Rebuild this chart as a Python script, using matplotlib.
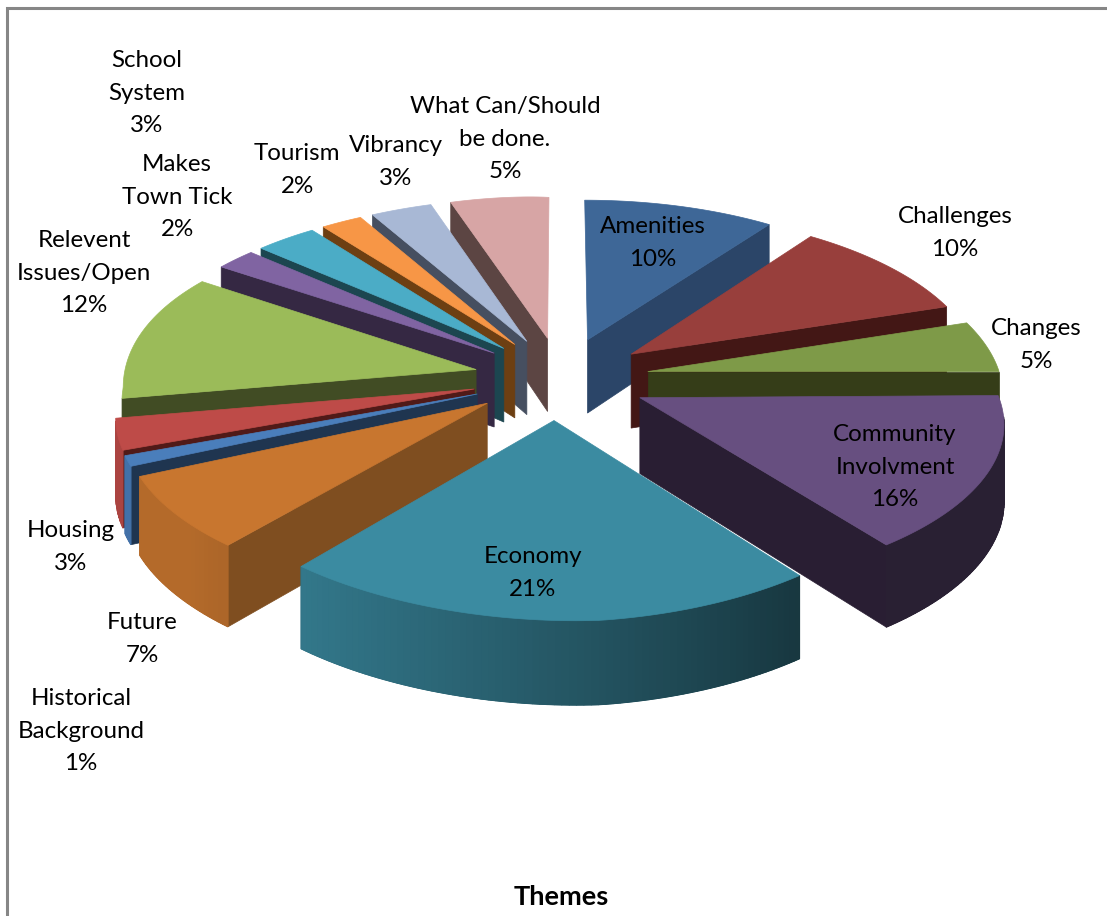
import numpy as np
import matplotlib
matplotlib.use('Agg')
import matplotlib.pyplot as plt
from matplotlib.colors import to_rgb

plt.rcParams['font.family'] = ['Lato', 'DejaVu Sans']

# clockwise from twelve o'clock
themes = ['Amenities', 'Challenges', 'Changes', 'Community\nInvolvment', 'Economy', 'Future',
          'Historical\nBackground', 'Housing', 'Relevent\nIssues/Open', 'Makes\nTown Tick',
          'School\nSystem', 'Tourism', 'Vibrancy', 'What Can/Should\nbe done.']
shares = [10, 10, 5, 16, 21, 7, 1, 3, 12, 2, 3, 2, 3, 5]
top_colors = ['#3E6797', '#983F3C', '#7E9A48', '#674F80', '#3B8BA1', '#C8762F', '#4A7EBB',
              '#BE4B48', '#9BBB59', '#8064A2', '#4BACC6', '#F79646', '#A8B8D5', '#D7A5A5']
side_colors = ['#2B4568', '#431715', '#353D18', '#291E33', '#16343F', '#7F4E20', '#1F3550',
               '#501A18', '#414C24', '#352843', '#1C4650', '#6D3F12', '#464F60', '#5C4543']
label_centers = [(653, 243), (955, 233), (1036, 345), (895, 467), (533, 573), (142, 639),
                 (81, 731), (71, 547), (84, 273), (177, 197), (147, 93), (297, 170),
                 (396, 162), (505, 139)]

# view of the pie, in pixels
CX, CY = 561, 378
RX, RY = 353, 165
PERSP_X, PERSP_Y = 0.122, 0.12
SHEAR_X, TILT_LEFT, TILT_RIGHT = 25, 8, 18
BACK_LEFT_X, BACK_LEFT_Y = 21, 8
EXPLODE = 0.25
DEPTH = 75


def project(u, v, z=0.0):
    u, v = np.asarray(u, float), np.asarray(v, float)
    front = np.clip(v, 0, None)
    back = np.clip(-v, 0, None)
    left = np.clip(-u, 0, None)
    x = CX + RX * u / (1 - PERSP_X * v) + SHEAR_X * front ** 2
    x = x - BACK_LEFT_X * left ** 2 * back
    y = CY + RY * v / (1 - PERSP_Y * v) + z * DEPTH * (1 + 0.1 * v)
    y = y + TILT_LEFT * left - TILT_RIGHT * np.clip(u, 0, None) * front
    y = y - BACK_LEFT_Y * np.sqrt(left) * back
    return x, y


def rim_shade(color, theta):
    f = np.clip(0.6 - 0.38 * np.sin(theta), 0.4, 0.9)
    return tuple(c * f for c in to_rgb(color))


def draw_slice(ax, start, end, top, side):
    mid = (start + end) / 2
    u0, v0 = EXPLODE * np.sin(mid), -EXPLODE * np.cos(mid)
    n = max(int(np.degrees(end - start)), 3) + 1
    angs = np.linspace(start, end, n)
    us, vs = u0 + np.sin(angs), v0 - np.cos(angs)

    # radial wall that faces the viewer
    for a, show in ((end, np.sin(end) > 0), (start, np.sin(start) < 0)):
        if show:
            ue, ve = u0 + np.sin(a), v0 - np.cos(a)
            xt, yt = project([u0, ue], [v0, ve])
            xb, yb = project([u0, ue], [v0, ve], 1)
            ax.fill([xt[0], xt[1], xb[1], xb[0]], [yt[0], yt[1], yb[1], yb[0]],
                    color=side, lw=0.5)

    # outer wall in strips so the shade can change
    xt, yt = project(us, vs)
    xb, yb = project(us, vs, 1)
    seen = -np.cos(angs) > 0.13
    if seen.sum() > 1:
        ax.fill(np.r_[xt[seen], xb[seen][::-1]], np.r_[yt[seen], yb[seen][::-1]],
                color=rim_shade(top, mid), lw=0.5)
    for i in range(n - 1):
        if seen[i] and seen[i + 1]:
            a = (angs[i] + angs[i + 1]) / 2
            ax.fill([xt[i], xt[i + 1], xb[i + 1], xb[i]], [yt[i], yt[i + 1], yb[i + 1], yb[i]],
                    color=rim_shade(top, a), lw=0.8)

    xa, ya = project(u0, v0)
    ax.fill(np.r_[xa, xt], np.r_[ya, yt], color=top, lw=0.5)


def main():
    fig = plt.figure(figsize=(11.07, 9.16), dpi=100)
    ax = fig.add_axes([0, 0, 1, 1])
    ax.set_xlim(0, 1107)
    ax.set_ylim(916, 0)
    ax.axis('off')

    # chart area border, cropped at right and bottom
    ax.plot([6.5, 6.5, 1107], [916, 8, 8], color='#868686', lw=2.2, solid_joinstyle='miter')

    edges = np.radians(np.r_[0, np.cumsum(shares)] * 3.6)
    mids = (edges[:-1] + edges[1:]) / 2
    # back slices first
    for i in np.argsort(-np.cos(mids)):
        draw_slice(ax, edges[i], edges[i + 1], top_colors[i], side_colors[i])

    for name, share, (x, y) in zip(themes, shares, label_centers):
        ax.text(x, y, '%s\n%d%%' % (name, share), ha='center', va='center', fontsize=17.4,
                color='black', linespacing=1.65)
    ax.text(561, 897, 'Themes', ha='center', va='center', fontsize=19.5, fontweight='bold')

    fig.savefig('out.png', dpi=100)


if __name__ == '__main__':
    main()
